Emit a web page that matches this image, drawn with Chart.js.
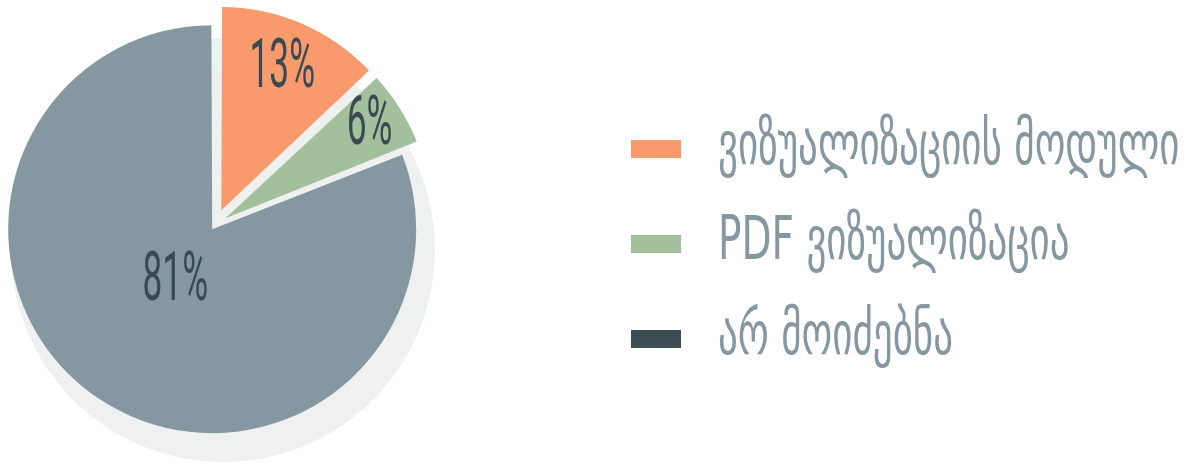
<!DOCTYPE html>
<html>
<head>
<meta charset="utf-8">
<script src="https://cdn.jsdelivr.net/npm/chart.js@4.4.0/dist/chart.umd.min.js"></script>
<style>
  html, body { margin: 0; padding: 0; background: #fff; }
  #wrap { position: relative; width: 1187px; height: 465px; overflow: hidden; }
  #pie { position: absolute; left: 0; top: 0; }
  #legend { position: absolute; left: 631px; top: 0; margin: 0; padding: 0; list-style: none; }
  #legend li { position: absolute; left: 0; height: 60px; display: flex; align-items: center; white-space: nowrap; }
  #legend .swatch { width: 50px; height: 18px; margin-right: 37px; flex: none; }
  #legend .text {
    display: inline-block;
    position: relative;
    top: -6px;
    font-family: "DejaVu Sans", sans-serif;
    font-size: 60px;
    line-height: 60px;
    color: #8597a0;
    transform: scaleX(0.65);
    transform-origin: left center;
  }
</style>
</head>
<body>
<div id="wrap">
  <canvas id="pie" width="1187" height="465"></canvas>
  <ul id="legend"></ul>
</div>
<script>
const categories = ['ვიზუალიზაციის მოდული', 'PDF ვიზუალიზაცია', 'არ მოიძებნა'];
const shares = [13, 6, 81];
const sliceColors = ['#f89a6c', '#a2c09b', '#8597a0'];
const legendColors = ['#f89a6c', '#a2c09b', '#3c4d56'];

// how far each slice is pulled out (chart.js divides this by 4)
const sliceOffsets = [64, 48, 20];
// where the % label sits, as a share of the radius
const labelRadius = [0.77, 0.86, 0.33];

const SHADOW = { dx: 8, dy: 25, grow: 13, color: '#eff1f0' };
const LEGEND_TOP = 119;
const LEGEND_GAP = 95;

const shadowPlugin = {
  id: 'pieShadow',
  beforeDatasetsDraw(chart) {
    const arc = chart.getDatasetMeta(0).data[0];
    if (!arc) return;
    const ctx = chart.ctx;
    ctx.save();
    ctx.fillStyle = SHADOW.color;
    ctx.beginPath();
    ctx.arc(arc.x + SHADOW.dx, arc.y + SHADOW.dy, arc.outerRadius + SHADOW.grow, 0, Math.PI * 2);
    ctx.fill();
    ctx.restore();
  }
};

const sliceLabelPlugin = {
  id: 'sliceLabels',
  afterDatasetsDraw(chart) {
    const ctx = chart.ctx;
    chart.getDatasetMeta(0).data.forEach((arc, i) => {
      const mid = (arc.startAngle + arc.endAngle) / 2;
      const shift = (arc.options.offset || 0) / 4;
      const dist = shift + arc.outerRadius * labelRadius[i];
      ctx.save();
      ctx.translate(arc.x + Math.cos(mid) * dist, arc.y + Math.sin(mid) * dist);
      ctx.scale(0.52, 1);
      ctx.font = '400 68px Roboto';
      ctx.fillStyle = '#3b4a52';
      ctx.textAlign = 'center';
      ctx.textBaseline = 'middle';
      ctx.fillText(shares[i] + '%', 0, 0);
      ctx.restore();
    });
  }
};

new Chart(document.getElementById('pie'), {
  type: 'pie',
  data: {
    labels: categories,
    datasets: [{
      data: shares,
      backgroundColor: sliceColors,
      offset: sliceOffsets,
      borderWidth: 0
    }]
  },
  options: {
    responsive: false,
    animation: false,
    devicePixelRatio: 1,
    radius: 199,
    layout: { padding: { left: 0, top: 0, right: 757, bottom: 15 } },
    events: [],
    plugins: { legend: { display: false }, tooltip: { enabled: false } }
  },
  plugins: [shadowPlugin, sliceLabelPlugin]
});

const legend = document.getElementById('legend');
categories.forEach((name, i) => {
  const li = document.createElement('li');
  li.style.top = (LEGEND_TOP + i * LEGEND_GAP) + 'px';
  li.innerHTML = `<span class="swatch" style="background:${legendColors[i]}"></span><span class="text">${name}</span>`;
  legend.appendChild(li);
});
</script>
</body>
</html>
